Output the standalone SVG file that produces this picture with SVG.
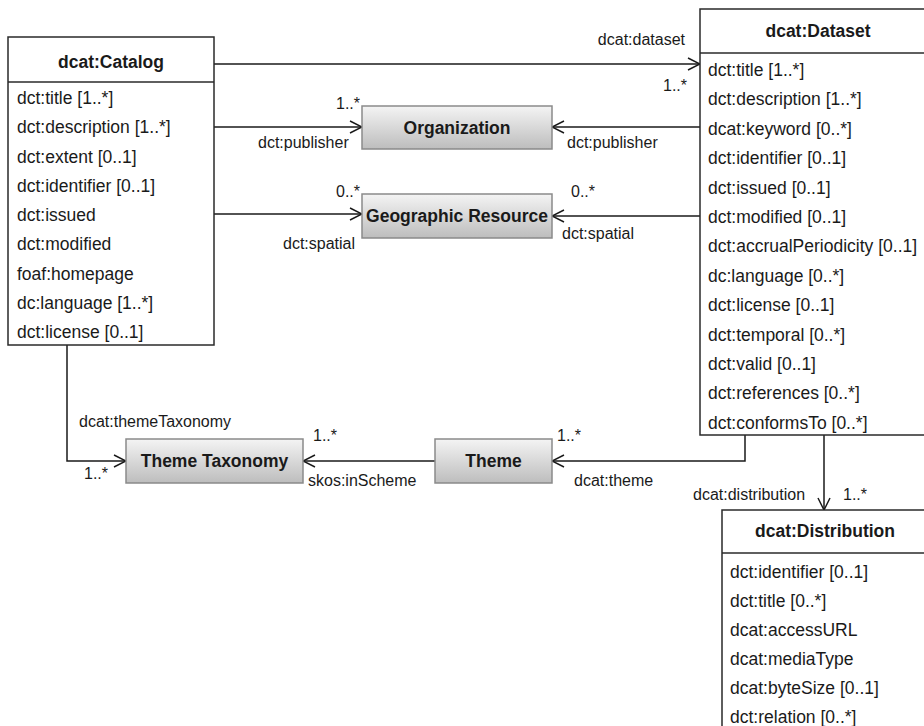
<svg xmlns="http://www.w3.org/2000/svg" width="924" height="726" viewBox="0 0 924 726">
<defs>
<linearGradient id="g" x1="0" y1="0" x2="0" y2="1">
<stop offset="0" stop-color="#f4f4f4"/>
<stop offset="1" stop-color="#bdbdbd"/>
</linearGradient>
<marker id="arr" viewBox="0 0 14 14" refX="13" refY="7" markerWidth="14" markerHeight="14" markerUnits="userSpaceOnUse" orient="auto">
<path d="M1,1 L13,7 L1,13" fill="none" stroke="#1a1a1a" stroke-width="1.5"/>
</marker>
</defs>
<style>
text{font-family:"Liberation Sans",Arial,sans-serif;fill:#1a1a1a}
.cls{fill:#fff;stroke:#2a2a2a;stroke-width:1.5}
.sep{stroke:#2a2a2a;stroke-width:1.5}
.t{font-size:17.5px;font-weight:bold;text-anchor:middle}
.r{font-size:17.5px}
.l{font-size:16px}
.nd{fill:url(#g);stroke:#8a8a8a;stroke-width:1.5}
.c{fill:none;stroke:#1a1a1a;stroke-width:1.5;marker-end:url(#arr)}
</style>
<rect width="924" height="726" fill="#fff"/>
<g id="connectors">
<path class="c" d="M214,64 H700"/>
<path class="c" d="M214,127 H362"/>
<path class="c" d="M700,127 H552"/>
<path class="c" d="M214,214 H362"/>
<path class="c" d="M700,216 H552"/>
<path class="c" d="M67,345 V461 H126"/>
<path class="c" d="M435,461 H303"/>
<path class="c" d="M745,435 V461 H552"/>
<path class="c" d="M824,435 V510"/>
<text class="l" x="685" y="45" text-anchor="end">dcat:dataset</text>
<text class="l" x="663" y="91">1..*</text>
<text class="l" x="336" y="109">1..*</text>
<text class="l" x="258" y="148">dct:publisher</text>
<text class="l" x="567" y="148">dct:publisher</text>
<text class="l" x="336" y="197">0..*</text>
<text class="l" x="571" y="197">0..*</text>
<text class="l" x="283" y="249">dct:spatial</text>
<text class="l" x="562" y="239">dct:spatial</text>
<text class="l" x="79" y="427">dcat:themeTaxonomy</text>
<text class="l" x="84" y="479">1..*</text>
<text class="l" x="313" y="441">1..*</text>
<text class="l" x="308" y="486">skos:inScheme</text>
<text class="l" x="557" y="441">1..*</text>
<text class="l" x="574" y="486">dcat:theme</text>
<text class="l" x="693" y="500">dcat:distribution</text>
<text class="l" x="843" y="500">1..*</text>
</g>
<g id="catalog">
<rect class="cls" x="8" y="37" width="206" height="308"/>
<line class="sep" x1="8" y1="82" x2="214" y2="82"/>
<text class="t" x="111" y="68">dcat:Catalog</text>
<text class="r" x="17" y="104">dct:title [1..*]</text>
<text class="r" x="17" y="133.25">dct:description [1..*]</text>
<text class="r" x="17" y="162.5">dct:extent [0..1]</text>
<text class="r" x="17" y="191.75">dct:identifier [0..1]</text>
<text class="r" x="17" y="221">dct:issued</text>
<text class="r" x="17" y="250.25">dct:modified</text>
<text class="r" x="17" y="279.5">foaf:homepage</text>
<text class="r" x="17" y="308.75">dc:language [1..*]</text>
<text class="r" x="17" y="338">dct:license [0..1]</text>
</g>
<g id="dataset">
<rect class="cls" x="700" y="9" width="236" height="426"/>
<line class="sep" x1="700" y1="53" x2="936" y2="53"/>
<text class="t" x="818" y="37">dcat:Dataset</text>
<text class="r" x="708" y="76">dct:title [1..*]</text>
<text class="r" x="708" y="105.4">dct:description [1..*]</text>
<text class="r" x="708" y="134.8">dcat:keyword [0..*]</text>
<text class="r" x="708" y="164.2">dct:identifier [0..1]</text>
<text class="r" x="708" y="193.6">dct:issued [0..1]</text>
<text class="r" x="708" y="223">dct:modified [0..1]</text>
<text class="r" x="708" y="252.4">dct:accrualPeriodicity [0..1]</text>
<text class="r" x="708" y="281.8">dc:language [0..*]</text>
<text class="r" x="708" y="311.2">dct:license [0..1]</text>
<text class="r" x="708" y="340.6">dct:temporal [0..*]</text>
<text class="r" x="708" y="370">dct:valid [0..1]</text>
<text class="r" x="708" y="399.4">dct:references [0..*]</text>
<text class="r" x="708" y="428.8">dct:conformsTo [0..*]</text>
</g>
<g id="distribution">
<rect class="cls" x="722" y="510" width="210" height="230"/>
<line class="sep" x1="722" y1="553" x2="932" y2="553"/>
<text class="t" x="825" y="537">dcat:Distribution</text>
<text class="r" x="730" y="578">dct:identifier [0..1]</text>
<text class="r" x="730" y="607">dct:title [0..*]</text>
<text class="r" x="730" y="636">dcat:accessURL</text>
<text class="r" x="730" y="665">dcat:mediaType</text>
<text class="r" x="730" y="694">dcat:byteSize [0..1]</text>
<text class="r" x="730" y="723">dct:relation [0..*]</text>
</g>
<g id="organization">
<rect class="nd" x="362" y="106" width="190" height="43"/>
<text class="t" x="457" y="134">Organization</text>
</g>
<g id="geographic-resource">
<rect class="nd" x="362" y="194" width="190" height="44"/>
<text class="t" x="457" y="222">Geographic Resource</text>
</g>
<g id="theme-taxonomy">
<rect class="nd" x="126" y="439" width="177" height="44"/>
<text class="t" x="214.5" y="467">Theme Taxonomy</text>
</g>
<g id="theme">
<rect class="nd" x="435" y="439" width="117" height="44"/>
<text class="t" x="493.5" y="467">Theme</text>
</g>
</svg>
